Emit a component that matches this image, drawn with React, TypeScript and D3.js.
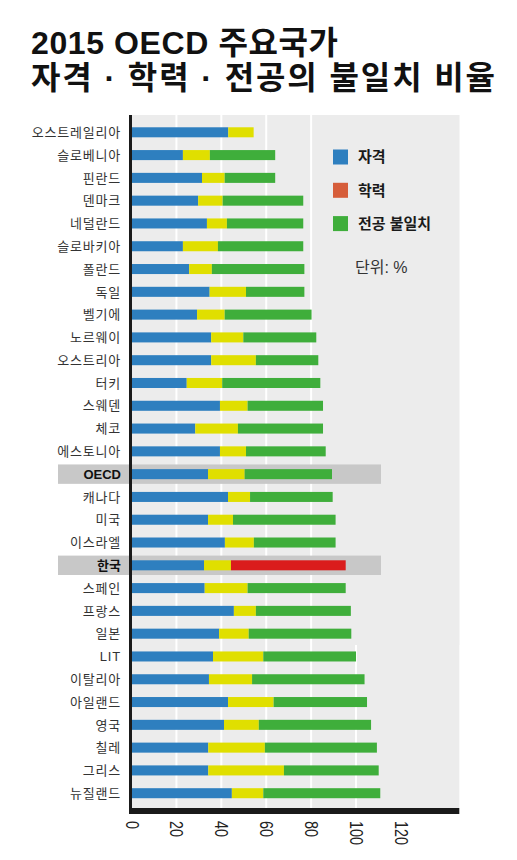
import * as d3 from 'd3'

// 2015 OECD mismatch shares (%)
const countries = [
  '오스트레일리아', '슬로베니아', '핀란드', '덴마크', '네덜란드',
  '슬로바키아', '폴란드', '독일', '벨기에', '노르웨이',
  '오스트리아', '터키', '스웨덴', '체코', '에스토니아',
  'OECD', '캐나다', '미국', '이스라엘', '한국',
  '스페인', '프랑스', '일본', 'LIT', '이탈리아',
  '아일랜드', '영국', '칠레', '그리스', '뉴질랜드',
]
const qualification = [
  43.1, 22.9, 31.4, 29.7, 33.6, 22.9, 25.7, 34.8, 29.2, 35.5,
  35.5, 24.6, 39.4, 28.4, 39.4, 34.1, 43.0, 34.1, 41.6, 32.3,
  32.6, 45.6, 39.0, 36.3, 34.5, 43.0, 41.2, 34.2, 34.2, 44.7,
]
const education = [
  11.3, 12.0, 10.1, 10.9, 8.9, 15.6, 10.1, 16.2, 12.3, 14.3,
  19.9, 15.8, 12.3, 19.0, 11.6, 16.3, 9.8, 11.1, 12.9, 12.0,
  19.1, 9.8, 13.2, 22.4, 19.2, 20.3, 15.5, 25.2, 33.7, 14.0,
]
const fieldOfStudy = [
  0, 29.1, 22.5, 35.9, 34.0, 38.0, 41.2, 26.0, 38.7, 32.5,
  27.8, 43.7, 33.6, 37.9, 35.5, 38.9, 36.8, 45.7, 36.4, 51.1,
  43.7, 42.3, 45.7, 41.3, 50.1, 41.6, 50.0, 49.9, 42.2, 52.1,
]
const highlighted = ['OECD', '한국']
const xTicks = [0, 20, 40, 60, 80, 100, 120]
const gridTicks = [20, 40, 60, 80, 100]
const legendItems = ['자격', '학력', '전공 불일치']

const BLUE = '#2e7fbf'
const YELLOW = '#e0df00'
const GREEN = '#3fae3b'
const RED = '#da1c1c'
const ORANGE = '#d65d3a'
const BG = '#ececec'
const FONT = "'Liberation Sans', Arial, 'Noto Sans CJK KR', sans-serif"

const keys = ['qual', 'edu', 'field']

export default function App() {
  const width = 517
  const height = 860
  const plotTop = 115
  const plotRight = 459.3
  const axisY = 808

  const rows = countries.map((c, i) => ({
    country: c,
    qual: qualification[i],
    edu: education[i],
    field: fieldOfStudy[i],
  }))

  const x = d3.scaleLinear().domain([0, 146]).range([131.5, plotRight])
  const y = d3
    .scaleBand<string>()
    .domain(countries)
    .range([120.9, 804.6])
    .paddingInner(0.56)
    .paddingOuter(0.28)

  const series = d3.stack<(typeof rows)[number]>().keys(keys)(rows)

  const colorFor = (key: string, country: string) => {
    if (key === 'qual') return BLUE
    if (key === 'edu') return YELLOW
    return country === '한국' ? RED : GREEN
  }

  const legendColors = [BLUE, ORANGE, GREEN]

  return (
    <svg
      width={width}
      height={height}
      style={{ position: 'absolute', left: 0, top: 0, background: '#fff' }}
      fontFamily={FONT}
    >
      {/* Title */}
      <text x={31} y={54} fontSize={32} fontWeight={700} fill="#111" letterSpacing={0.6}>
        2015 OECD 주요국가
      </text>
      <text x={31} y={89} fontSize={32} fontWeight={700} fill="#111" letterSpacing={1.9}>
        자격 · 학력 · 전공의 불일치 비율
      </text>

      {/* Plot background */}
      <rect x={x(0)} y={plotTop} width={plotRight - x(0)} height={axisY - plotTop} fill={BG} />
      {gridTicks.map((t) => (
        <line key={t} x1={x(t)} x2={x(t)} y1={plotTop} y2={axisY} stroke="#fff" strokeWidth={2} />
      ))}
      {/* legend panel hides the right gridlines */}
      <rect x={315} y={plotTop} width={plotRight - 315} height={645 - plotTop} fill={BG} />

      {/* Highlight bands */}
      {highlighted.map((c) => (
        <rect
          key={c}
          x={58}
          y={(y(c) ?? 0) + y.bandwidth() / 2 - 9.7}
          width={381 - 58}
          height={19.4}
          fill="#c8c8c8"
        />
      ))}

      {/* Bars */}
      {series.map((s) =>
        s.map((d) =>
          d[1] - d[0] > 0 ? (
            <rect
              key={s.key + d.data.country}
              x={x(d[0])}
              y={y(d.data.country)}
              width={x(d[1]) - x(d[0])}
              height={y.bandwidth()}
              fill={colorFor(s.key, d.data.country)}
            />
          ) : null,
        ),
      )}

      {/* Axes */}
      <rect x={129} y={plotTop} width={3} height={814 - plotTop} fill="#1a1a1a" />
      <rect x={129} y={axisY} width={plotRight - 129} height={6} fill="#1a1a1a" />
      {xTicks.map((t) => (
        <text
          key={t}
          transform={`translate(${x(t) + 0.5},821) rotate(90) scale(0.8,1)`}
          dy="0.36em"
          fontSize={18}
          fill="#222"
        >
          {t}
        </text>
      ))}

      {/* Country labels */}
      {countries.map((c) => {
        const bold = highlighted.includes(c)
        return (
          <text
            key={c}
            x={121}
            y={(y(c) ?? 0) + y.bandwidth() / 2}
            dy="0.36em"
            textAnchor="end"
            fontSize={13}
            letterSpacing={bold ? 0 : 0.8}
            fontWeight={bold ? 700 : 400}
            fill={bold ? '#111' : '#333'}
          >
            {c}
          </text>
        )
      })}

      {/* Legend */}
      {legendItems.map((label, i) => (
        <g key={label} transform={`translate(333,${157 + i * 33.3})`}>
          <rect x={0} y={-7.5} width={15} height={15} fill={legendColors[i]} />
          <text x={25} dy="0.36em" fontSize={15} fontWeight={700} fill="#1a1a1a">
            {label}
          </text>
        </g>
      ))}
      <text x={355} y={267} dy="0.36em" fontSize={16} fill="#333">
        단위: %
      </text>
    </svg>
  )
}
